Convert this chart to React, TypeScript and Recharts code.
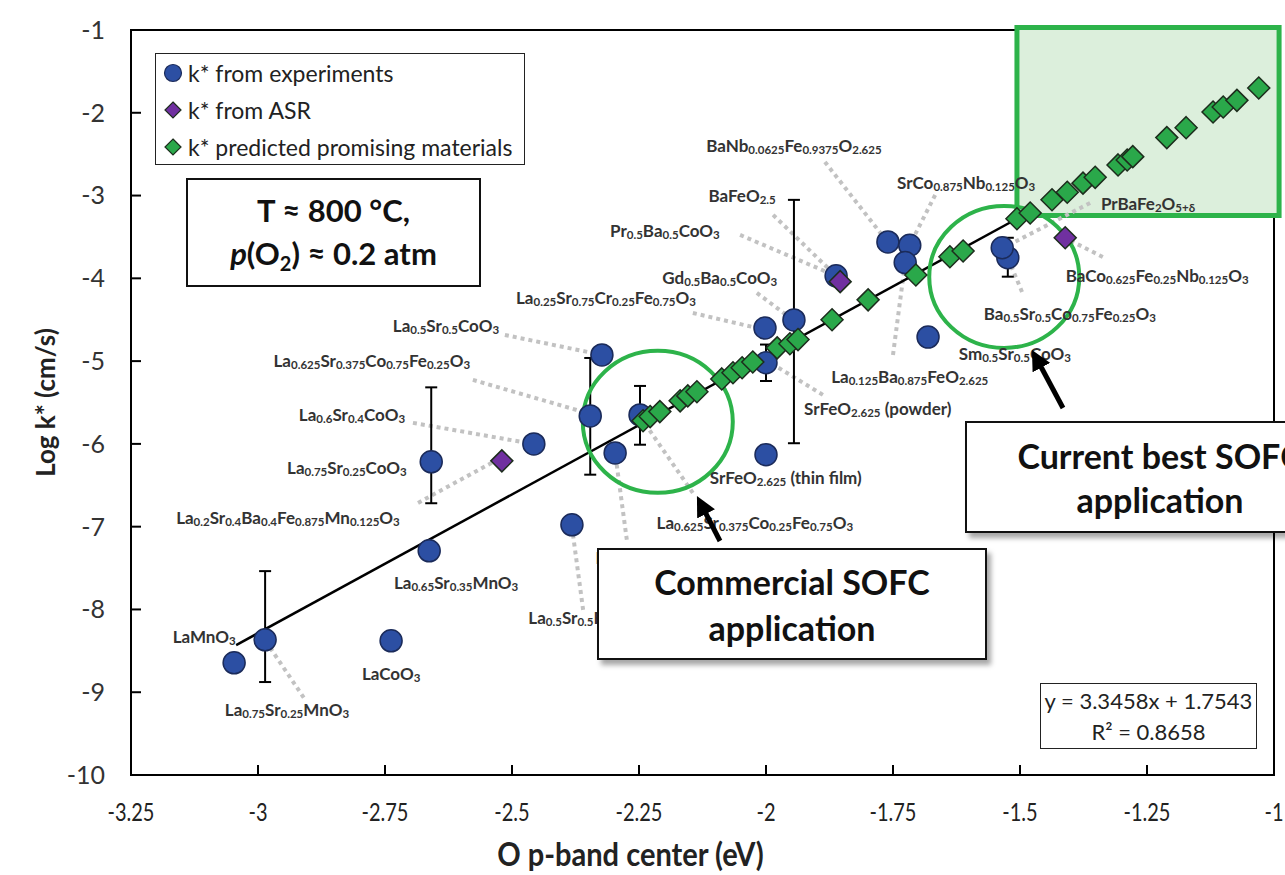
import React from 'react'
import { ScatterChart, Scatter, XAxis, YAxis, ErrorBar, ReferenceArea, ReferenceLine, ReferenceDot, Legend } from 'recharts'

const FONT = 'Lato, "Open Sans", sans-serif'

const X_TICKS = [-3.25, -3, -2.75, -2.5, -2.25, -2, -1.75, -1.5, -1.25, -1]
const Y_TICKS = [-10, -9, -8, -7, -6, -5, -4, -3, -2, -1]

// k* from experiments, err = [below, above]
const experimentsErr = [
  { x: -2.986, y: -8.367, err: [0.51, 0.83] },
  { x: -2.659, y: -6.217, err: [0.5, 0.9] },
  { x: -2.346, y: -5.662, err: [0.71, 0.7] },
  { x: -2.248, y: -5.65, err: [0.36, 0.35] },
  { x: -1.945, y: -4.502, err: [1.49, 1.45] },
  { x: -2.0, y: -5.02, err: [0.22, 0.22] },
  { x: -1.524, y: -3.75, err: [0.23, 0.24] },
]

const experiments = [
  { x: -3.047, y: -8.645 },
  { x: -2.738, y: -8.379 },
  { x: -2.663, y: -7.292 },
  { x: -2.457, y: -6.0 },
  { x: -2.323, y: -4.925 },
  { x: -2.297, y: -6.109 },
  { x: -2.382, y: -6.978 },
  { x: -2.002, y: -4.6 },
  { x: -2.0, y: -6.13 },
  { x: -1.862, y: -3.97 },
  { x: -1.76, y: -3.56 },
  { x: -1.717, y: -3.6 },
  { x: -1.726, y: -3.81 },
  { x: -1.681, y: -4.71 },
  { x: -1.535, y: -3.63 },
]

const fromASR = [
  { x: -2.52, y: -6.205 },
  { x: -1.854, y: -4.04 },
  { x: -1.411, y: -3.51 },
]

const predicted = [
  { x: -2.242, y: -5.72 }, { x: -2.228, y: -5.67 }, { x: -2.209, y: -5.61 },
  { x: -2.169, y: -5.48 }, { x: -2.154, y: -5.42 }, { x: -2.136, y: -5.37 },
  { x: -2.087, y: -5.215 }, { x: -2.065, y: -5.14 }, { x: -2.047, y: -5.08 }, { x: -2.026, y: -5.01 },
  { x: -1.978, y: -4.84 }, { x: -1.953, y: -4.79 }, { x: -1.937, y: -4.74 },
  { x: -1.87, y: -4.5 }, { x: -1.799, y: -4.26 }, { x: -1.705, y: -3.96 },
  { x: -1.638, y: -3.74 }, { x: -1.612, y: -3.67 },
  { x: -1.506, y: -3.28 }, { x: -1.48, y: -3.21 }, { x: -1.437, y: -3.05 }, { x: -1.407, y: -2.96 },
  { x: -1.376, y: -2.85 }, { x: -1.352, y: -2.78 }, { x: -1.307, y: -2.63 }, { x: -1.289, y: -2.57 },
  { x: -1.278, y: -2.53 }, { x: -1.211, y: -2.3 }, { x: -1.173, y: -2.18 },
  { x: -1.12, y: -1.99 }, { x: -1.1, y: -1.93 }, { x: -1.073, y: -1.85 }, { x: -1.03, y: -1.7 },
]

// fitted line y = 3.3458x + 1.7543, end points
const trendStart = { x: -3.043, y: -8.43 }
const trendEnd = { x: -1.506, y: -3.28 }

const formulaLabels = [
  { text: 'LaMnO_{3}', x: -3.106, y: -8.32 },
  { text: 'La_{0.75}Sr_{0.25}MnO_{3}', x: -2.943, y: -9.2 },
  { text: 'LaCoO_{3}', x: -2.738, y: -8.766 },
  { text: 'La_{0.65}Sr_{0.35}MnO_{3}', x: -2.61, y: -7.667 },
  { text: 'La_{0.2}Sr_{0.4}Ba_{0.4}Fe_{0.875}Mn_{0.125}O_{3}', x: -2.941, y: -6.882 },
  { text: 'La_{0.75}Sr_{0.25}CoO_{3}', x: -2.825, y: -6.278 },
  { text: 'La_{0.6}Sr_{0.4}CoO_{3}', x: -2.815, y: -5.638 },
  { text: 'La_{0.625}Sr_{0.375}Co_{0.75}Fe_{0.25}O_{3}', x: -2.776, y: -4.986 },
  { text: 'La_{0.5}Sr_{0.5}CoO_{3}', x: -2.63, y: -4.563 },
  { text: 'La_{0.25}Sr_{0.75}Cr_{0.25}Fe_{0.75}O_{3}', x: -2.315, y: -4.225 },
  { text: 'Gd_{0.5}Ba_{0.5}CoO_{3}', x: -2.091, y: -3.983 },
  { text: 'Pr_{0.5}Ba_{0.5}CoO_{3}', x: -2.199, y: -3.415 },
  { text: 'BaFeO_{2.5}', x: -2.047, y: -2.993 },
  { text: 'BaNb_{0.0625}Fe_{0.9375}O_{2.625}', x: -1.945, y: -2.389 },
  { text: 'SrCo_{0.875}Nb_{0.125}O_{3}', x: -1.606, y: -2.836 },
  { text: 'PrBaFe_{2}O_{5+δ}', x: -1.248, y: -3.089 },
  { text: 'BaCo_{0.625}Fe_{0.25}Nb_{0.125}O_{3}', x: -1.23, y: -3.959 },
  { text: 'Ba_{0.5}Sr_{0.5}Co_{0.75}Fe_{0.25}O_{3}', x: -1.402, y: -4.418 },
  { text: 'Sm_{0.5}Sr_{0.5}CoO_{3}', x: -1.51, y: -4.901 },
  { text: 'La_{0.125}Ba_{0.875}FeO_{2.625}', x: -1.717, y: -5.179 },
  { text: 'SrFeO_{2.625} (powder)', x: -1.78, y: -5.565 },
  { text: 'SrFeO_{2.625} (thin film)', x: -1.961, y: -6.399 },
  { text: 'La_{0.625}Sr_{0.375}Co_{0.25}Fe_{0.75}O_{3}', x: -2.022, y: -6.942 },
  { text: 'La_{0.5}Sr_{0.5}FeO_{3}', x: -2.366, y: -8.089 },
  { text: 'LaFeO_{3}', x: -2.281, y: -7.365 },
]

const leaders = [
  { x1: -2.976, y1: -8.464, x2: -2.907, y2: -9.092 },
  { x1: -2.685, y1: -6.713, x2: -2.533, y2: -6.205 },
  { x1: -2.695, y1: -5.746, x2: -2.47, y2: -5.988 },
  { x1: -2.577, y1: -5.227, x2: -2.346, y2: -5.638 },
  { x1: -2.514, y1: -4.684, x2: -2.323, y2: -4.925 },
  { x1: -2.144, y1: -4.418, x2: -2.002, y2: -4.623 },
  { x1: -2.018, y1: -4.176, x2: -1.947, y2: -4.502 },
  { x1: -2.051, y1: -3.476, x2: -1.862, y2: -3.971 },
  { x1: -1.986, y1: -3.234, x2: -1.862, y2: -3.971 },
  { x1: -1.884, y1: -2.594, x2: -1.764, y2: -3.536 },
  { x1: -1.667, y1: -2.993, x2: -1.717, y2: -3.597 },
  { x1: -1.75, y1: -4.925, x2: -1.726, y2: -3.802 },
  { x1: -1.362, y1: -3.089, x2: -1.533, y2: -3.633 },
  { x1: -1.337, y1: -3.742, x2: -1.415, y2: -3.5 },
  { x1: -1.496, y1: -4.164, x2: -1.524, y2: -3.754 },
  { x1: -1.888, y1: -5.408, x2: -1.994, y2: -5.01 },
  { x1: -2.144, y1: -6.592, x2: -2.242, y2: -5.722 },
  { x1: -2.36, y1: -8.005, x2: -2.382, y2: -7.002 },
  { x1: -2.274, y1: -7.159, x2: -2.297, y2: -6.109 },
]

const highlightCircles = [
  { x: -2.213, y: -5.734 },
  { x: -1.531, y: -3.983 },
]

const legendItems = [
  { name: 'k* from experiments', kind: 'circle', color: '#2c4fa3' },
  { name: 'k* from ASR', kind: 'diamond', color: '#7030a0' },
  { name: 'k* predicted promising materials', kind: 'diamond', color: '#2aa84a' },
]

const BLUE = '#2c4fa3'
const PURPLE = '#7030a0'
const GREEN = '#2aa84a'
const RING = '#2db34a'

function formula(s: string, sub = 11.5, shift = 4.5) {
  const parts = s.split(/(_\{[^}]*\})/).filter(Boolean)
  let down = false
  return parts.map((p, i) => {
    if (p.startsWith('_{')) {
      const el = <tspan key={i} dy={down ? 0 : shift} fontSize={sub}>{p.slice(2, -1)}</tspan>
      down = true
      return el
    }
    const el = <tspan key={i} dy={down ? -shift : 0}>{p}</tspan>
    down = false
    return el
  })
}

const CircleDot = (p: any) => (
  <circle cx={p.cx} cy={p.cy} r={11} fill={BLUE} stroke="#1b2b5a" strokeWidth={1.5} />
)

const diamond = (fill: string, h: number) => (p: any) => (
  <polygon
    points={`${p.cx},${p.cy - h} ${p.cx + h},${p.cy} ${p.cx},${p.cy + h} ${p.cx - h},${p.cy}`}
    fill={fill}
    stroke="#1d2d1d"
    strokeWidth={1.5}
  />
)

const FormulaText = (p: any) => (
  <text x={p.cx} y={p.cy} textAnchor="middle" dominantBaseline="central" fontFamily={FONT} fontWeight={700} fontSize={17} fill="#333">
    {formula(p.payload.text)}
  </text>
)

const Ring = (p: any) => (
  <ellipse cx={p.cx} cy={p.cy} rx={75} ry={71} fill="none" stroke={RING} strokeWidth={4} />
)

const XTick = (p: any) => (
  <text
    x={p.x}
    y={p.y}
    dy="0.71em"
    textAnchor="middle"
    transform={`translate(${p.x} 0) scale(0.8 1) translate(${-p.x} 0)`}
    fontFamily={FONT}
    fontSize={25}
    fill="#222"
  >
    {p.payload.value}
  </text>
)

function LegendBox() {
  return (
    <div style={{ border: '1.5px solid #222', background: '#fff', width: 370, height: 112, boxSizing: 'border-box', fontFamily: FONT, fontSize: 23, color: '#222', paddingLeft: 5 }}>
      {legendItems.map((it) => (
        <div key={it.name} style={{ display: 'flex', alignItems: 'center', height: 37 }}>
          <svg width={24} height={22} style={{ marginRight: 3 }}>
            {it.kind === 'circle' ? (
              <circle cx={12} cy={11} r={8.5} fill={it.color} stroke="#1b2b5a" strokeWidth={1.2} />
            ) : (
              <polygon points="12,3 20,11 12,19 4,11" fill={it.color} stroke="#1d2d1d" strokeWidth={1.2} />
            )}
          </svg>
          <span>{it.name}</span>
        </div>
      ))}
    </div>
  )
}

const XTitle = (p: any) => {
  const vb = p.viewBox
  const cx = vb.x + vb.width * 0.437
  return (
    <text x={cx} y={vb.y + 78} transform={`translate(${cx} 0) scale(0.88 1) translate(${-cx} 0)`} textAnchor="middle" dominantBaseline="central" fontFamily={FONT} fontWeight={700} fontSize={33} fill="#222">
      O p-band center (eV)
    </text>
  )
}

const YTitle = (p: any) => {
  const vb = p.viewBox
  const cx = 45
  const cy = vb.y + vb.height / 2
  return (
    <text x={cx} y={cy} transform={`rotate(-90 ${cx} ${cy})`} textAnchor="middle" dominantBaseline="central" fontFamily={FONT} fontWeight={700} fontSize={26} fill="#222">
      Log k* (cm/s)
    </text>
  )
}

const boxText: React.CSSProperties = { fontFamily: FONT, fontWeight: 700, color: '#111', textAlign: 'center' }

export default function App() {
  return (
    <div style={{ position: 'fixed', left: 0, top: 0, width: 1285, height: 875, overflow: 'hidden', background: '#fff' }}>
      <ScatterChart width={1285} height={875} margin={{ top: 30, right: 11, bottom: 0, left: 0 }}>
        <XAxis
          type="number"
          dataKey="x"
          domain={[-3.25, -1]}
          ticks={X_TICKS}
          interval={0}
          allowDataOverflow
          height={100}
          axisLine={{ stroke: '#000', strokeWidth: 2 }}
          tickLine={{ stroke: '#000', strokeWidth: 2 }}
          tickSize={-10}
          tickMargin={38}
          tick={XTick}
          label={XTitle}
        />
        <YAxis
          type="number"
          dataKey="y"
          domain={[-10, -1]}
          ticks={Y_TICKS}
          interval={0}
          allowDataOverflow
          width={131}
          axisLine={{ stroke: '#000', strokeWidth: 2 }}
          tickLine={{ stroke: '#000', strokeWidth: 2 }}
          tickSize={-10}
          tickMargin={36}
          tick={{ fill: '#333', fontSize: 25, fontFamily: FONT }}
          label={YTitle}
        />
        <ReferenceArea x1={-3.25} x2={-1} y1={-10} y2={-1} fill="none" stroke="#000" strokeWidth={2} ifOverflow="visible" />
        <ReferenceArea x1={-1.506} x2={-0.99} y1={-3.24} y2={-0.97} fill="#dcefdc" fillOpacity={1} stroke={RING} strokeWidth={5} ifOverflow="visible" />
        {highlightCircles.map((c, i) => (
          <ReferenceDot key={`ring${i}`} x={c.x} y={c.y} r={75} shape={Ring} ifOverflow="visible" />
        ))}
        {leaders.map((l, i) => (
          <ReferenceLine
            key={`ld${i}`}
            segment={[{ x: l.x1, y: l.y1 }, { x: l.x2, y: l.y2 }]}
            stroke="#c2c2c2"
            strokeWidth={4}
            strokeDasharray="4 4"
            ifOverflow="visible"
          />
        ))}
        <ReferenceLine segment={[trendStart, trendEnd]} stroke="#000" strokeWidth={2.5} ifOverflow="visible" />
        <Scatter name="k* from experiments" data={experimentsErr} shape={CircleDot} isAnimationActive={false}>
          <ErrorBar dataKey="err" direction="y" width={6} stroke="#000" strokeWidth={2} />
        </Scatter>
        <Scatter name="k* from experiments " data={experiments} shape={CircleDot} isAnimationActive={false} />
        <Scatter name="k* from ASR" data={fromASR} shape={diamond(PURPLE, 11)} isAnimationActive={false} />
        <Scatter name="k* predicted promising materials" data={predicted} shape={diamond(GREEN, 11)} isAnimationActive={false} />
        <Scatter name="labels" data={formulaLabels} shape={FormulaText} isAnimationActive={false} />
        <Legend layout="vertical" align="center" verticalAlign="middle" content={() => <LegendBox />} wrapperStyle={{ left: 155, top: 53, width: 370, height: 112 }} />
      </ScatterChart>

      <div style={{ position: 'absolute', left: 186, top: 178, width: 295, height: 109, border: '2px solid #111', boxSizing: 'border-box', background: '#fff', ...boxText, fontSize: 31, lineHeight: '43px', paddingTop: 9 }}>
        T ≈ 800 °C,<br />
        <i>p</i>(O<sub style={{ fontSize: 20, verticalAlign: -6, lineHeight: 0 }}>2</sub>) ≈ 0.2 atm
      </div>

      <div style={{ position: 'absolute', left: 597, top: 548, width: 390, height: 112, border: '2px solid #111', boxSizing: 'border-box', background: '#fff', boxShadow: '4px 5px 5px rgba(0,0,0,0.35)', ...boxText, fontSize: 34, lineHeight: '46px', paddingTop: 9 }}>
        Commercial SOFC<br />application
      </div>

      <div style={{ position: 'absolute', left: 965, top: 421, width: 390, height: 112, border: '2px solid #111', boxSizing: 'border-box', background: '#fff', boxShadow: '4px 5px 5px rgba(0,0,0,0.35)', ...boxText, fontSize: 34, lineHeight: '44px', paddingTop: 11 }}>
        Current best SOFC<br />application
      </div>

      <div style={{ position: 'absolute', left: 1040, top: 683, width: 217, height: 66, border: '1.5px solid #222', boxSizing: 'border-box', background: '#fff', fontFamily: FONT, fontSize: 22, color: '#222', textAlign: 'center', lineHeight: '31px', paddingTop: 1 }}>
        y = 3.3458x + 1.7543<br />R² = 0.8658
      </div>

      <svg width={1285} height={875} style={{ position: 'absolute', left: 0, top: 0, pointerEvents: 'none' }}>
        <defs>
          <marker id="ah" markerWidth="4" markerHeight="4" refX="2" refY="2" orient="auto" markerUnits="strokeWidth">
            <path d="M0,0 L4,2 L0,4 z" fill="#000" />
          </marker>
        </defs>
        <line x1={720} y1={541} x2={701.5} y2={505} stroke="#000" strokeWidth={5} markerEnd="url(#ah)" />
        <line x1={1063} y1={408} x2={1036.7} y2={358.8} stroke="#000" strokeWidth={5} markerEnd="url(#ah)" />
      </svg>
    </div>
  )
}
